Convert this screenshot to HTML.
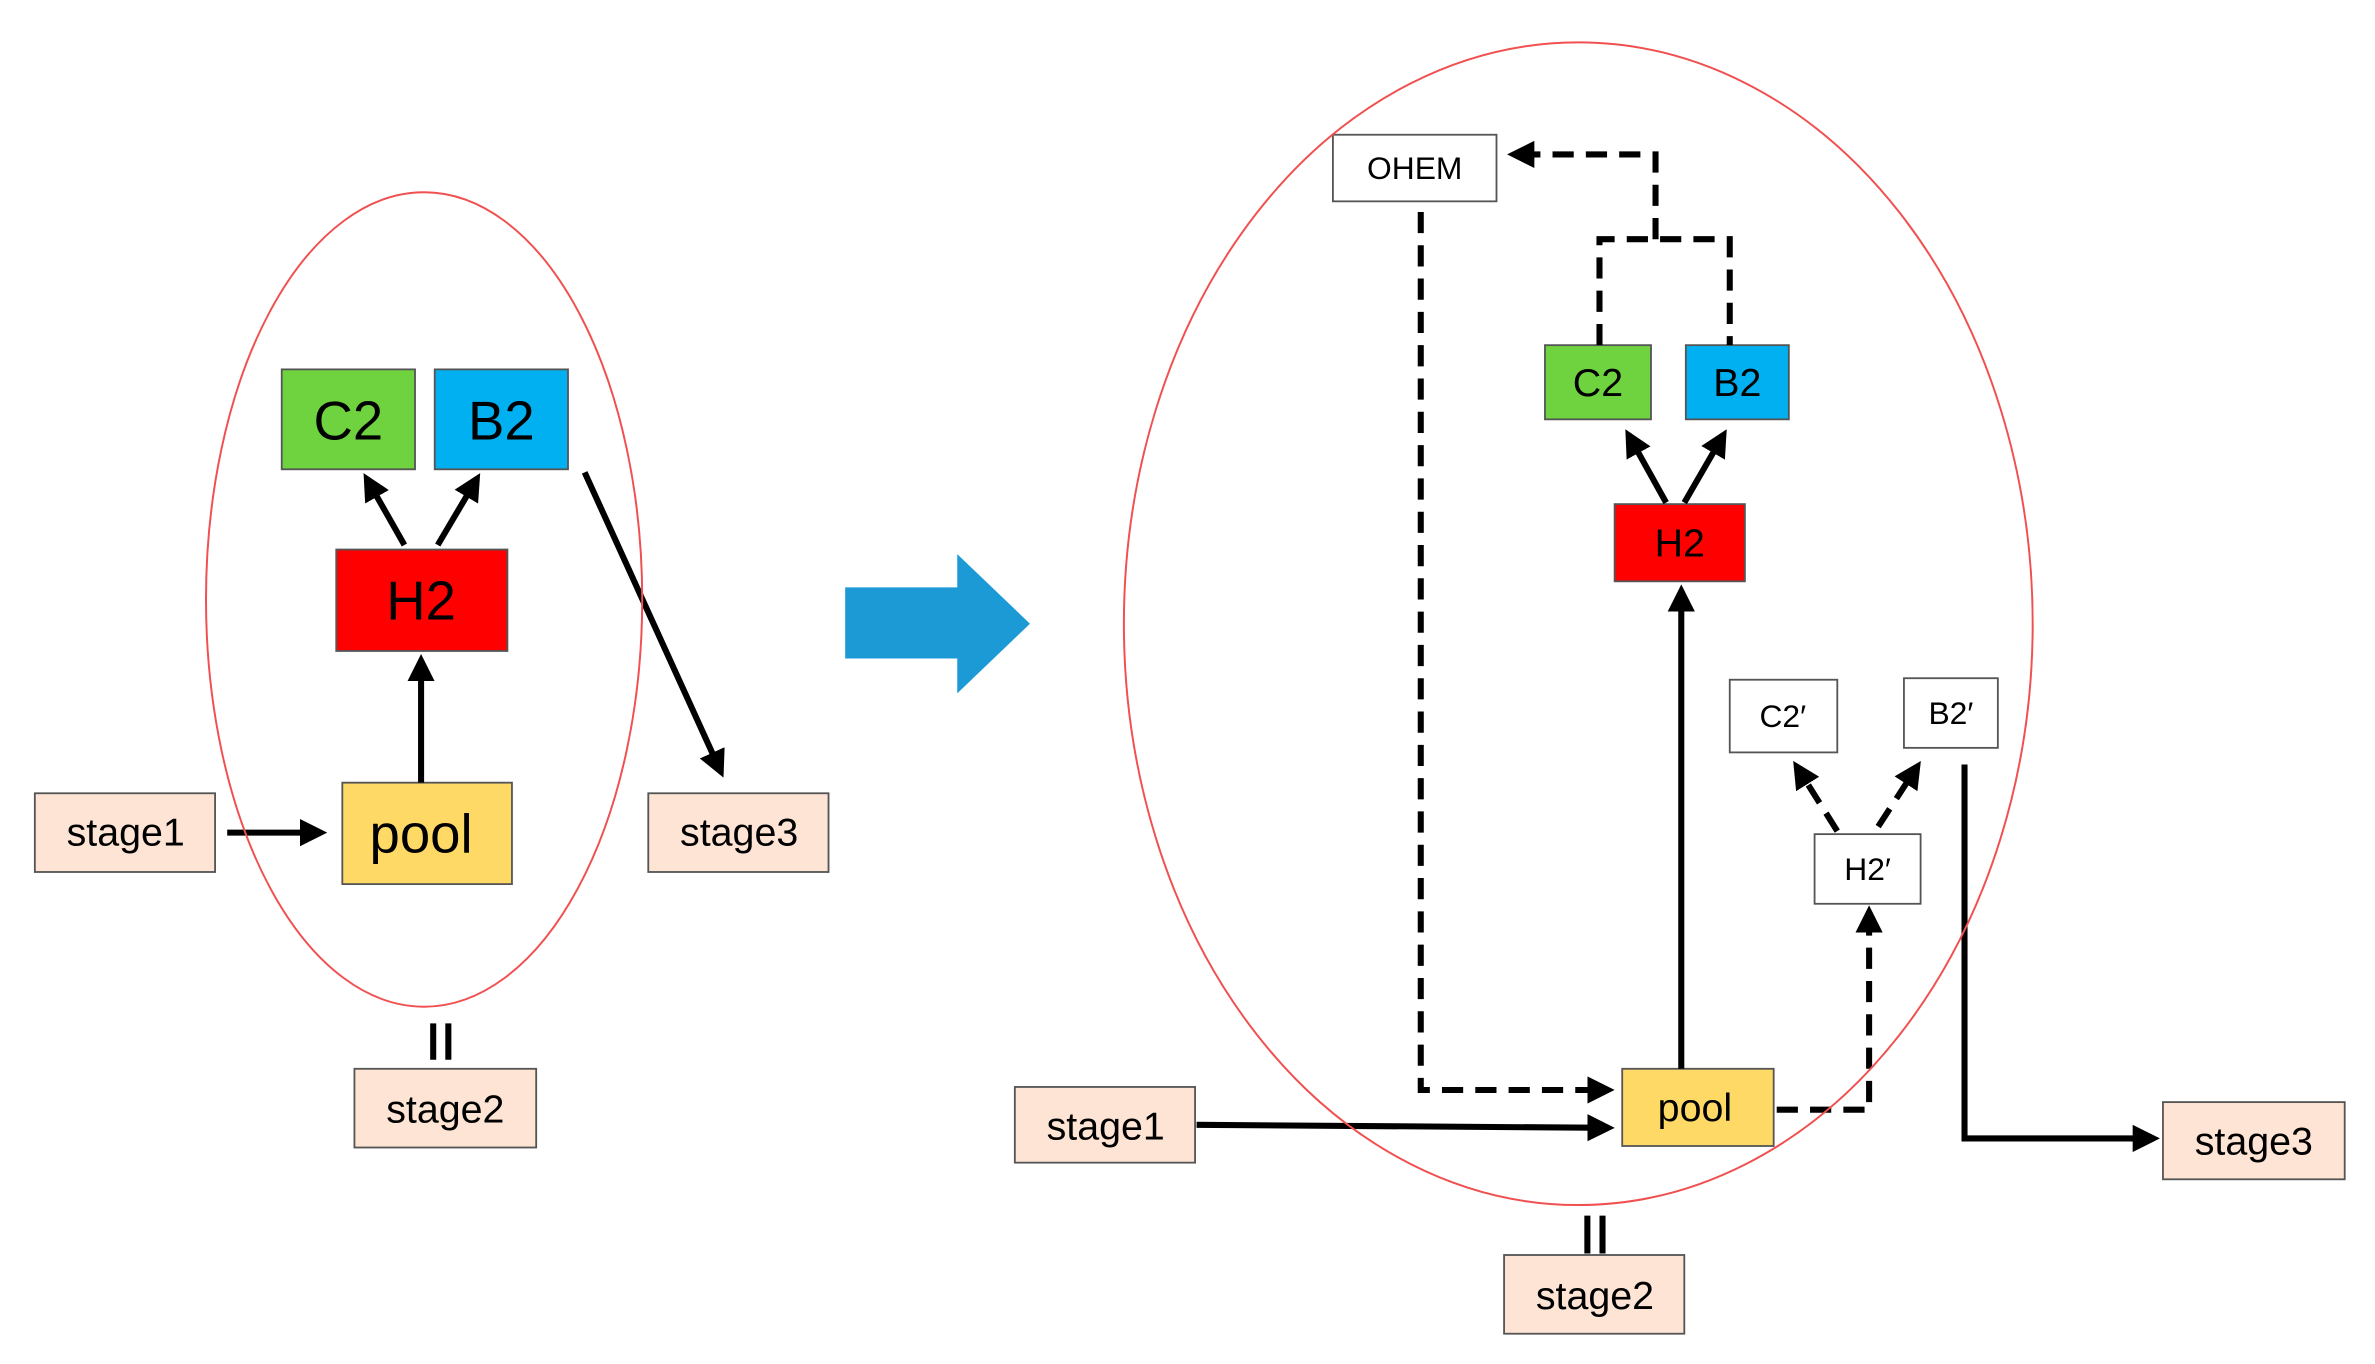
<!DOCTYPE html>
<html><head><meta charset="utf-8"><style>html,body{margin:0;padding:0;background:#fff;width:2375px;height:1364px;overflow:hidden}svg{display:block}text{font-family:"Liberation Sans",sans-serif;text-anchor:middle;dominant-baseline:central;fill:#000}</style></head><body>
<svg width="2375" height="1364" viewBox="0 0 1568 901" preserveAspectRatio="none" xmlns="http://www.w3.org/2000/svg">
<defs>
<marker id="a" markerWidth="4.5" markerHeight="4.5" refX="3.5" refY="2.25" orient="auto" markerUnits="strokeWidth"><path d="M0,0 L4.5,2.25 L0,4.5 z" fill="#000"/></marker>
</defs>
<g stroke="#555" stroke-width="1.2">
<rect x="186" y="244" width="88" height="66" fill="#6fd33f"/>
<rect x="287" y="244" width="88" height="66" fill="#00b0f0"/>
<rect x="222" y="363" width="113" height="67" fill="#ff0000"/>
<rect x="226" y="517" width="112" height="67" fill="#ffd966"/>
<rect x="23" y="524" width="119" height="52" fill="#fde4d4"/>
<rect x="428" y="524" width="119" height="52" fill="#fde4d4"/>
<rect x="234" y="706" width="120" height="52" fill="#fde4d4"/>
<rect x="880" y="89" width="108" height="44" fill="#fff"/>
<rect x="1020" y="228" width="70" height="49" fill="#6fd33f"/>
<rect x="1113" y="228" width="68" height="49" fill="#00b0f0"/>
<rect x="1066" y="333" width="86" height="51" fill="#ff0000"/>
<rect x="1142" y="449" width="71" height="48" fill="#fff"/>
<rect x="1257" y="448" width="62" height="46" fill="#fff"/>
<rect x="1198" y="551" width="70" height="46" fill="#fff"/>
<rect x="1071" y="706" width="100" height="51" fill="#ffd966"/>
<rect x="670" y="718" width="119" height="50" fill="#fde4d4"/>
<rect x="1428" y="728" width="120" height="51" fill="#fde4d4"/>
<rect x="993" y="829" width="119" height="52" fill="#fde4d4"/>
</g>
<path d="M558,388 H632 V366 L680,412 L632,458 V435 H558 Z" fill="#1b9ad6"/>
<g stroke="#000" stroke-width="4" fill="none">
<line x1="150" y1="550" x2="212" y2="550" marker-end="url(#a)"/>
<line x1="278" y1="517" x2="278" y2="436" marker-end="url(#a)"/>
<line x1="267" y1="360" x2="242" y2="316" marker-end="url(#a)"/>
<line x1="289" y1="360" x2="315" y2="316" marker-end="url(#a)"/>
<line x1="386" y1="312" x2="476" y2="510" marker-end="url(#a)"/>
<line x1="286" y1="676" x2="286" y2="700"/><line x1="296" y1="676" x2="296" y2="700"/>
<line x1="1048" y1="803" x2="1048" y2="828"/><line x1="1058" y1="803" x2="1058" y2="828"/>
<line x1="1110" y1="706" x2="1110" y2="390" marker-end="url(#a)"/>
<line x1="1100" y1="332" x2="1075" y2="287" marker-end="url(#a)"/>
<line x1="1112" y1="332" x2="1138" y2="287" marker-end="url(#a)"/>
<line x1="790" y1="743" x2="1062" y2="745" marker-end="url(#a)"/>
<polyline points="1297,505 1297,752 1422,752" marker-end="url(#a)"/>
</g>
<g stroke="#000" stroke-width="4" fill="none" stroke-dasharray="14,8">
<polyline points="938,140 938,720 1062,720" marker-end="url(#a)"/>
<polyline points="1056,228 1056,158 1142,158 1142,228"/>
<polyline points="1093,158 1093,102 999,102" marker-end="url(#a)"/>
<polyline points="1173,733 1234,733 1234,602" marker-end="url(#a)"/>
<line x1="1213" y1="549" x2="1186" y2="506" marker-end="url(#a)"/>
<line x1="1240" y1="546" x2="1266" y2="506" marker-end="url(#a)"/>
</g>
<ellipse cx="280" cy="396" rx="144" ry="269" fill="none" stroke="#f05050" stroke-width="1.3"/>
<ellipse cx="1042" cy="412" rx="300" ry="384" fill="none" stroke="#f05050" stroke-width="1.3"/>
<g font-size="36">
<text x="230" y="278">C2</text><text x="331" y="278">B2</text><text x="278" y="397">H2</text><text x="278" y="551">pool</text>
</g>
<g font-size="26">
<text x="83" y="550">stage1</text><text x="488" y="550">stage3</text><text x="294" y="733">stage2</text>
<text x="730" y="744">stage1</text><text x="1488" y="754">stage3</text><text x="1053" y="856">stage2</text>
<text x="1055" y="253">C2</text><text x="1147" y="253">B2</text><text x="1109" y="359">H2</text><text x="1119" y="732">pool</text>
</g>
<g font-size="21">
<text x="934" y="111">OHEM</text><text x="1177" y="473">C2′</text><text x="1288" y="471">B2′</text><text x="1233" y="574">H2′</text>
</g>
</svg>
</body></html>
